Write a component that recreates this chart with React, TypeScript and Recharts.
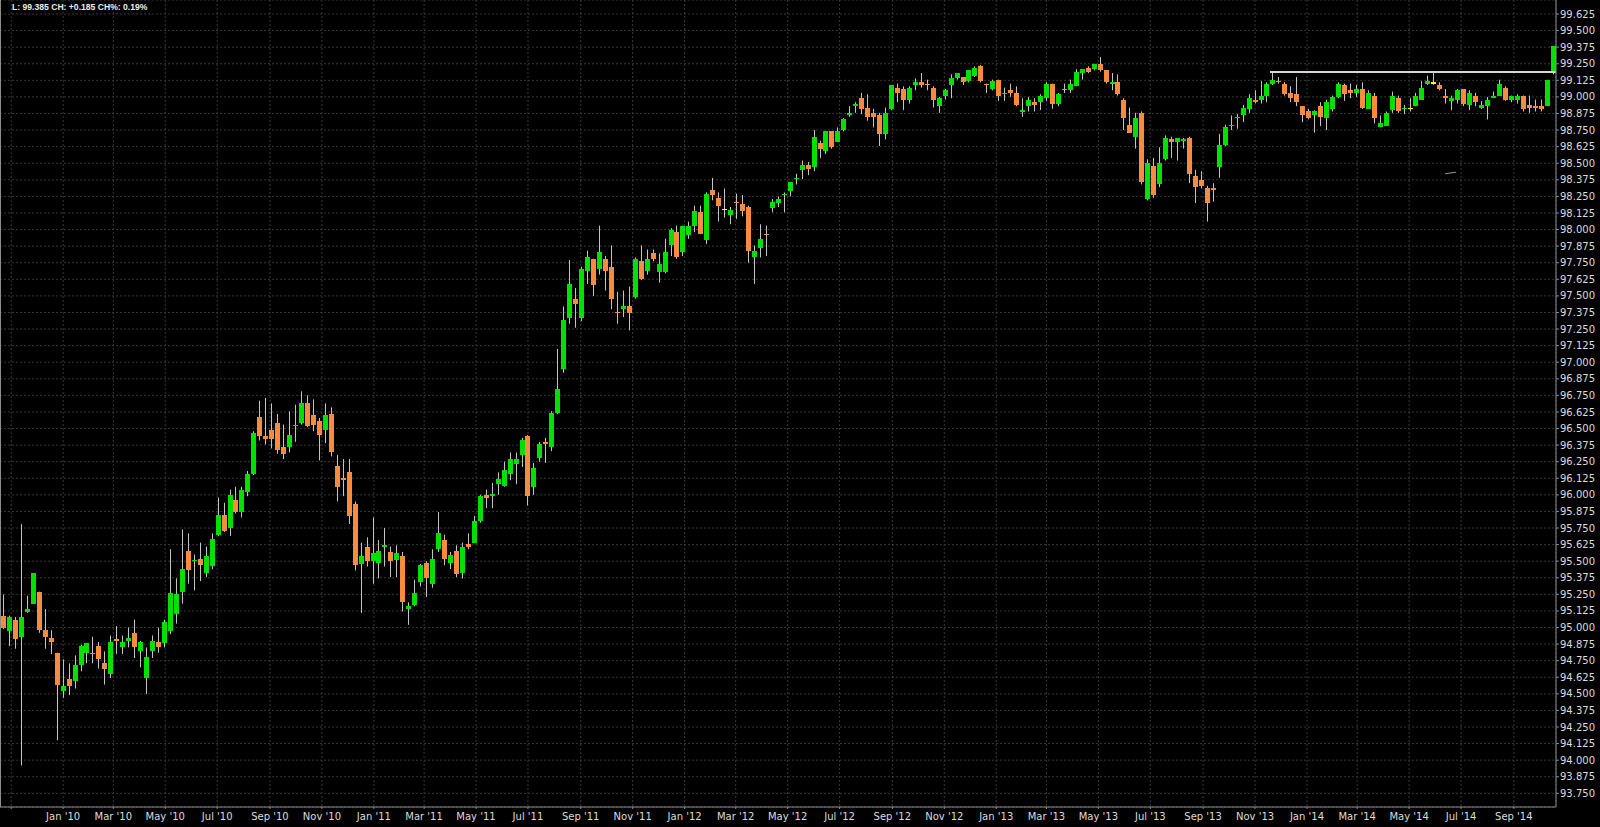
import React from "react";
import {
  ComposedChart,
  Bar,
  XAxis,
  YAxis,
  CartesianGrid,
  ReferenceLine,
} from "recharts";

// weekly candles, first one is the week of 2009-10-23
const FIRST_WEEK = Date.UTC(2009, 9, 23);
const WEEK_MS = 7 * 86400000;

const OPEN = [
  95.09, 94.97, 95.06, 94.93, 95.12, 95.18, 95.27, 94.98, 94.92, 94.81,
  94.52, 94.61, 94.6, 94.72, 94.81, 94.81, 94.86, 94.73, 94.65, 94.91,
  94.85, 94.9, 94.96, 94.82, 94.62, 94.82, 94.89, 94.88, 94.97, 95.1,
  95.27, 95.58, 95.5, 95.52, 95.41, 95.46, 95.7, 95.85, 95.75, 95.96,
  95.87, 96.02, 96.16, 96.59, 96.44, 96.49, 96.54, 96.36, 96.36, 96.52,
  96.54, 96.69, 96.6, 96.56, 96.49, 96.61, 96.22, 96.13, 96.17, 95.93,
  95.48, 95.61, 95.5, 95.49, 95.61, 95.57, 95.51, 95.54, 95.14, 95.17,
  95.34, 95.49, 95.33, 95.59, 95.66, 95.49, 95.58, 95.41, 95.63, 95.64,
  95.8, 96.0, 95.99, 96.08, 96.07, 96.16, 96.23, 96.3, 96.44, 96.06,
  96.28, 96.4, 96.36, 96.62, 96.95, 97.33, 97.48, 97.33, 97.69, 97.78,
  97.7, 97.78, 97.72, 97.38, 97.4, 97.42, 97.49, 97.76, 97.69, 97.82,
  97.68, 97.68, 97.88, 97.98, 97.83, 97.96, 98.03, 98.13, 97.92, 98.3,
  98.24, 98.155, 98.11, 98.21, 98.19, 98.17, 97.79, 97.86, 97.97, 98.16,
  98.2, 98.26, 98.29, 98.38, 98.45, 98.49, 98.47, 98.65, 98.59, 98.74,
  98.66, 98.75, 98.86, 98.93, 98.99, 98.92, 98.88, 98.86, 98.72, 98.91,
  99.07, 99.06, 98.98, 99.09, 99.11, 99.1, 99.07, 98.93, 99.01, 99.09,
  99.14, 99.15, 99.12, 99.16, 99.23, 99.1, 99.06, 99.13, 99.02, 99.05,
  99.03, 98.89, 98.93, 98.96, 98.96, 98.99, 99.1, 98.95, 99.06, 99.05,
  99.08, 99.18, 99.22, 99.21, 99.25, 99.2, 99.1, 99.11, 98.98, 98.79,
  98.7, 98.88, 98.23, 98.48, 98.34, 98.53, 98.68, 98.66, 98.67, 98.69,
  98.4, 98.37, 98.31, 98.31, 98.47, 98.64, 98.78, 98.84, 98.86, 98.91,
  98.98, 98.98, 99.01, 99.1, 99.12, 99.1, 99.03, 99.02, 98.93, 98.89,
  98.86, 98.93, 98.84, 98.91, 99.0, 99.09, 99.05, 99.03, 99.06, 98.91,
  99.01, 98.77, 98.78, 98.9, 98.99, 98.91, 98.92, 98.93, 98.98, 99.1,
  99.11, 99.09, 99.01, 98.97, 98.98, 99.06, 98.94, 99.01, 98.92, 98.93,
  98.995, 99.01, 99.07, 98.98, 98.98, 99.01, 98.94, 98.93, 98.93, 98.93,
  99.18,
];

const HIGH = [
  95.25, 95.09, 95.08, 95.78, 95.24, 95.41, 95.27, 95.14, 94.98, 94.81,
  94.76, 94.73, 94.79, 94.87, 94.88, 94.93, 94.89, 94.82, 94.94, 95.01,
  94.94, 95.0, 95.06, 94.9, 94.85, 94.94, 95.0, 95.06, 95.59, 95.37,
  95.74, 95.71, 95.55, 95.64, 95.61, 95.71, 95.98, 95.94, 96.04, 96.06,
  96.06, 96.18, 96.48, 96.71, 96.73, 96.69, 96.61, 96.53, 96.63, 96.68,
  96.78, 96.75, 96.72, 96.58, 96.69, 96.66, 96.3, 96.27, 96.27, 95.95,
  95.64, 95.68, 95.83, 95.66, 95.75, 95.61, 95.62, 95.57, 95.19, 95.36,
  95.48, 95.5, 95.59, 95.87, 95.7, 95.57, 95.62, 95.64, 95.71, 95.84,
  96.0, 96.04, 96.09, 96.17, 96.25, 96.32, 96.32, 96.43, 96.45, 96.24,
  96.4, 96.43, 96.63, 97.1, 97.42, 97.77, 97.56, 97.72, 97.84, 97.78,
  98.03, 97.8, 97.88, 97.53, 97.54, 97.57, 97.79, 97.88, 97.85, 97.85,
  97.82, 97.93, 98.01, 98.03, 98.03, 98.06, 98.18, 98.18, 98.28, 98.39,
  98.28, 98.31, 98.17, 98.27, 98.26, 98.18, 97.88, 98.04, 98.03, 98.23,
  98.25, 98.28, 98.36, 98.42, 98.52, 98.51, 98.75, 98.67, 98.74, 98.74,
  98.77, 98.84, 98.93, 98.96, 99.03, 99.02, 98.91, 98.88, 98.92, 99.09,
  99.1, 99.08, 99.08, 99.14, 99.18, 99.13, 99.08, 99.0, 99.06, 99.17,
  99.18, 99.15, 99.2, 99.23, 99.24, 99.1, 99.13, 99.13, 99.07, 99.1,
  99.08, 98.99, 99.0, 98.99, 99.02, 99.11, 99.1, 99.03, 99.1, 99.13,
  99.21, 99.21, 99.23, 99.25, 99.3, 99.2, 99.18, 99.17, 98.99, 98.92,
  98.88, 98.89, 98.53, 98.54, 98.62, 98.71, 98.7, 98.69, 98.69, 98.7,
  98.45, 98.44, 98.33, 98.35, 98.72, 98.79, 98.86, 98.87, 98.94, 99.02,
  99.05, 99.12, 99.11, 99.18, 99.15, 99.11, 99.08, 99.15, 98.93, 98.91,
  98.9, 98.96, 98.98, 99.01, 99.11, 99.1, 99.1, 99.09, 99.11, 99.05,
  99.03, 98.86, 98.89, 99.04, 99.01, 98.94, 98.99, 99.03, 99.12, 99.16,
  99.19, 99.11, 99.06, 99.01, 99.06, 99.06, 99.05, 99.03, 98.97, 99.0,
  99.04, 99.13, 99.08, 99.01, 99.02, 99.01, 99.01, 98.98, 98.98, 99.13,
  99.385,
];

const LOW = [
  94.99, 94.86, 94.84, 93.96, 95.11, 95.18, 94.96, 94.84, 94.8, 94.15,
  94.47, 94.49, 94.54, 94.67, 94.73, 94.73, 94.69, 94.57, 94.62, 94.8,
  94.8, 94.85, 94.77, 94.7, 94.5, 94.77, 94.81, 94.85, 94.95, 95.03,
  95.18, 95.33, 95.28, 95.35, 95.38, 95.44, 95.69, 95.72, 95.69, 95.86,
  95.83, 95.99, 96.15, 96.41, 96.38, 96.35, 96.31, 96.27, 96.32, 96.4,
  96.53, 96.51, 96.48, 96.26, 96.39, 96.29, 95.95, 95.99, 95.78, 95.43,
  95.11, 95.46, 95.33, 95.37, 95.46, 95.38, 95.38, 95.12, 95.02, 95.16,
  95.31, 95.23, 95.3, 95.57, 95.47, 95.44, 95.38, 95.37, 95.59, 95.64,
  95.79, 95.9, 95.9, 96.0, 96.06, 96.11, 96.08, 96.21, 95.92, 96.0,
  96.25, 96.24, 96.33, 96.61, 96.92, 97.29, 97.26, 97.31, 97.59, 97.5,
  97.66, 97.54, 97.4, 97.29, 97.34, 97.24, 97.48, 97.62, 97.66, 97.76,
  97.6, 97.67, 97.8, 97.78, 97.8, 97.93, 97.98, 97.97, 97.89, 98.22,
  98.06, 98.09, 98.04, 98.08, 98.1, 97.75, 97.59, 97.79, 97.8, 98.13,
  98.17, 98.13, 98.25, 98.34, 98.38, 98.41, 98.44, 98.54, 98.57, 98.61,
  98.66, 98.74, 98.85, 98.88, 98.87, 98.82, 98.77, 98.63, 98.68, 98.9,
  98.96, 98.9, 98.95, 99.05, 99.07, 99.05, 98.92, 98.88, 98.98, 98.99,
  99.13, 99.09, 99.11, 99.15, 99.11, 99.03, 99.05, 98.97, 98.97, 99.0,
  98.93, 98.85, 98.89, 98.89, 98.9, 98.97, 98.91, 98.93, 99.03, 99.03,
  99.08, 99.13, 99.18, 99.2, 99.19, 99.1, 99.05, 99.01, 98.75, 98.73,
  98.61, 98.34, 98.22, 98.24, 98.32, 98.52, 98.54, 98.52, 98.61, 98.35,
  98.2, 98.31, 98.06, 98.21, 98.39, 98.63, 98.75, 98.76, 98.81, 98.88,
  98.95, 98.95, 98.96, 99.09, 99.1, 99.01, 98.96, 98.93, 98.81, 98.83,
  98.73, 98.78, 98.75, 98.89, 98.99, 98.97, 98.99, 99.0, 98.91, 98.91,
  98.8, 98.77, 98.78, 98.88, 98.88, 98.87, 98.89, 98.93, 98.98, 99.09,
  99.09, 99.05, 98.95, 98.9, 98.95, 98.93, 98.9, 98.93, 98.91, 98.83,
  98.99, 99.01, 98.97, 98.96, 98.95, 98.89, 98.88, 98.89, 98.89, 98.93,
  99.17,
];

const CLOSE = [
  95.0, 95.08, 94.91, 95.08, 95.14, 95.41, 94.98, 94.93, 94.89, 94.57,
  94.56, 94.56, 94.72, 94.86, 94.88, 94.8, 94.76, 94.69, 94.89, 94.9,
  94.89, 94.92, 94.85, 94.89, 94.78, 94.9, 94.85, 95.04, 95.26, 95.25,
  95.44, 95.43, 95.51, 95.47, 95.54, 95.67, 95.85, 95.73, 96.0, 95.87,
  96.04, 96.16, 96.47, 96.44, 96.42, 96.42, 96.34, 96.31, 96.45, 96.53,
  96.69, 96.52, 96.53, 96.45, 96.6, 96.32, 96.06, 96.11, 95.84, 95.47,
  95.54, 95.5, 95.56, 95.58, 95.62, 95.5, 95.56, 95.19, 95.16, 95.26,
  95.47, 95.37, 95.52, 95.71, 95.52, 95.55, 95.4, 95.61, 95.61, 95.8,
  95.99, 95.98, 96.01, 96.12, 96.19, 96.27, 96.27, 96.41, 95.99, 96.2,
  96.38, 96.38, 96.62, 96.8, 97.32, 97.59, 97.44, 97.7, 97.79, 97.58,
  97.83, 97.69, 97.48, 97.37, 97.42, 97.37, 97.78, 97.63, 97.78, 97.78,
  97.74, 97.83, 98.0, 97.79, 98.03, 98.03, 98.14, 97.97, 98.27, 98.26,
  98.18, 98.155, 98.15, 98.2, 98.14, 97.84, 97.84, 97.93, 97.96, 98.21,
  98.23, 98.27, 98.36, 98.39, 98.49, 98.46, 98.7, 98.61, 98.74, 98.62,
  98.74, 98.83, 98.88, 98.95, 98.91, 98.85, 98.85, 98.72, 98.88, 99.09,
  99.03, 98.98, 99.07, 99.11, 99.09, 99.09, 98.98, 98.99, 99.05, 99.14,
  99.18, 99.11, 99.2, 99.22, 99.12, 99.09, 99.12, 99.01, 99.03, 99.03,
  98.94, 98.9, 98.98, 98.94, 99.01, 99.1, 98.95, 99.02, 99.05, 99.1,
  99.19, 99.21, 99.19, 99.25, 99.2, 99.11, 99.11, 99.02, 98.84, 98.73,
  98.84, 98.36, 98.5, 98.26, 98.5, 98.69, 98.66, 98.69, 98.68, 98.42,
  98.32, 98.33, 98.2, 98.3, 98.64, 98.77, 98.79, 98.85, 98.92, 98.99,
  98.96, 99.01, 99.1, 99.13, 99.11, 99.02, 98.99, 98.96, 98.86, 98.84,
  98.89, 98.85, 98.96, 99.0, 99.1, 99.02, 99.03, 99.06, 98.92, 99.03,
  98.84, 98.8, 98.88, 99.01, 98.89, 98.92, 98.92, 99.01, 99.07, 99.12,
  99.11, 99.06, 98.99, 98.99, 99.05, 98.95, 99.03, 98.96, 98.94, 98.98,
  99.005, 99.1, 98.98, 99.01, 99.01, 98.91, 98.92, 98.92, 98.91, 99.13,
  99.385,
];

// x-axis: grid/labels on the 1st of every other month
const TICK_MONTHS = [
  "2009-11-01", "2010-01-01", "2010-03-01", "2010-05-01", "2010-07-01",
  "2010-09-01", "2010-11-01", "2011-01-01", "2011-03-01", "2011-05-01",
  "2011-07-01", "2011-09-01", "2011-11-01", "2012-01-01", "2012-03-01",
  "2012-05-01", "2012-07-01", "2012-09-01", "2012-11-01", "2013-01-01",
  "2013-03-01", "2013-05-01", "2013-07-01", "2013-09-01", "2013-11-01",
  "2014-01-01", "2014-03-01", "2014-05-01", "2014-07-01", "2014-09-01",
];
const TICK_LABELS = [
  "", "Jan '10", "Mar '10", "May '10", "Jul '10", "Sep '10", "Nov '10",
  "Jan '11", "Mar '11", "May '11", "Jul '11", "Sep '11", "Nov '11",
  "Jan '12", "Mar '12", "May '12", "Jul '12", "Sep '12", "Nov '12",
  "Jan '13", "Mar '13", "May '13", "Jul '13", "Sep '13", "Nov '13",
  "Jan '14", "Mar '14", "May '14", "Jul '14", "Sep '14",
];

const PRICE_TICKS = [
  93.75, 93.875, 94.0, 94.125, 94.25, 94.375, 94.5, 94.625, 94.75, 94.875,
  95.0, 95.125, 95.25, 95.375, 95.5, 95.625, 95.75, 95.875, 96.0, 96.125,
  96.25, 96.375, 96.5, 96.625, 96.75, 96.875, 97.0, 97.125, 97.25, 97.375,
  97.5, 97.625, 97.75, 97.875, 98.0, 98.125, 98.25, 98.375, 98.5, 98.625,
  98.75, 98.875, 99.0, 99.125, 99.25, 99.375, 99.5, 99.625,
];

// drawn lines on the chart (week index, price)
const TREND_FROM = 212.5;
const TREND_LEVEL = 99.188;
const DASH_LINE = [
  { x: 241.9, y: 98.421 },
  { x: 243.7, y: 98.432 },
];

const X_DOMAIN: [number, number] = [-0.59, 260.5];
const Y_DOMAIN: [number, number] = [93.647, 99.7305];

const UP = "#00e100";
const DOWN = "#f98b3c";
const DOJI = "#ffff00";
const WICK = "#c4c4c4";

const data = OPEN.map((open, i) => ({
  i,
  open,
  high: HIGH[i],
  low: LOW[i],
  close: CLOSE[i],
  range: [LOW[i], HIGH[i]],
}));

const tickPositions = TICK_MONTHS.map(
  (d) => (Date.parse(d + "T00:00:00Z") - FIRST_WEEK) / WEEK_MS
);

function Candle(props: any) {
  const { x, y, width, height, payload } = props;
  if (x == null || y == null) return null;
  const { open, close, high, low } = payload;
  const span = high - low;
  const h = Math.abs(height);
  const top = height < 0 ? y + height : y;
  const pxPer = span > 0 ? h / span : 0;
  const cx = Math.round(x + width / 2) + 0.5;
  const yO = top + (high - open) * pxPer;
  const yC = top + (high - close) * pxPer;
  const bodyTop = Math.min(yO, yC);
  const bodyH = Math.max(Math.abs(yO - yC), 1.5);
  const color = close > open ? UP : close < open ? DOWN : DOJI;
  return (
    <g>
      <line x1={cx} x2={cx} y1={top} y2={top + h} stroke={WICK} strokeWidth={1} />
      <rect
        x={cx - 2.5}
        y={bodyTop}
        width={5}
        height={bodyH}
        fill={color}
        shapeRendering="crispEdges"
      />
    </g>
  );
}

export default function App() {
  const labelFor = (v: number) => {
    const k = tickPositions.findIndex((t) => Math.abs(t - v) < 1e-6);
    return k >= 0 ? TICK_LABELS[k] : "";
  };

  return (
    <div
      style={{
        position: "absolute",
        left: 0,
        top: 0,
        width: 1600,
        height: 827,
        background: "#000",
        overflow: "hidden",
      }}
    >
      <ComposedChart
        width={1600}
        height={827}
        data={data}
        margin={{ top: 0, right: 0, bottom: 0, left: 0 }}
      >
        <CartesianGrid stroke="#383838" strokeDasharray="2 2" />
        <XAxis
          dataKey="i"
          type="number"
          domain={X_DOMAIN}
          allowDataOverflow
          ticks={tickPositions}
          interval={0}
          height={20}
          tickFormatter={labelFor}
          stroke="#8c8c8c"
          tickSize={2}
          tickMargin={4}
          tick={{ fill: "#dcdcdc", fontSize: 10, fontFamily: "DejaVu Sans" }}
        />
        <YAxis
          orientation="right"
          width={44}
          domain={Y_DOMAIN}
          allowDataOverflow
          ticks={PRICE_TICKS}
          interval={0}
          tickFormatter={(v: number) => v.toFixed(3)}
          stroke="#8c8c8c"
          tickSize={3}
          tickMargin={1}
          tick={{ fill: "#dcdcdc", fontSize: 10, fontFamily: "DejaVu Sans" }}
        />
        <Bar
          dataKey="range"
          barSize={5}
          shape={<Candle />}
          isAnimationActive={false}
        />
        <ReferenceLine
          segment={[
            { x: TREND_FROM, y: TREND_LEVEL },
            { x: X_DOMAIN[1], y: TREND_LEVEL },
          ]}
          stroke="#d6d6d6"
          strokeWidth={2}
        />
        <ReferenceLine segment={DASH_LINE} stroke="#9a9a9a" strokeWidth={1} />
      </ComposedChart>
      <svg
        width={1600}
        height={827}
        style={{ position: "absolute", left: 0, top: 0, pointerEvents: "none" }}
      >
        <line x1={0.5} x2={0.5} y1={0} y2={807} stroke="#8c8c8c" />
        <text
          x={12}
          y={9.5}
          fill="#ececec"
          fontSize={8.6}
          fontWeight="bold"
          fontFamily="Liberation Sans, Arial, sans-serif"
        >
          L: 99.385 CH: +0.185 CH%: 0.19%
        </text>
      </svg>
    </div>
  );
}
